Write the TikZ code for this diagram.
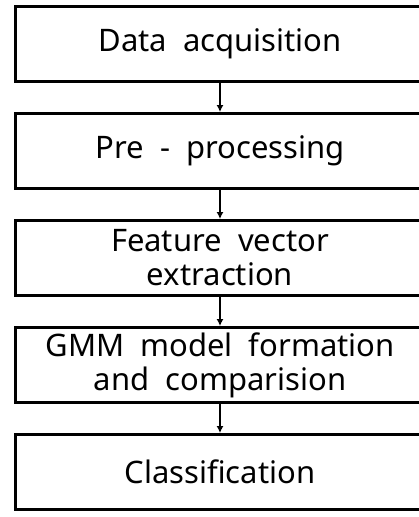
\documentclass[tikz,border=0pt]{standalone}
\usepackage{fontspec}
\setmainfont{Noto Sans}
\usetikzlibrary{positioning,arrows.meta}

\tikzset{
  stage/.style={draw,line width=3pt,minimum width=409pt,minimum height=75pt,
    align=center,font=\fontsize{31}{34}\selectfont,inner sep=0pt},
  flow/.style={-{Latex[length=7pt,width=7pt]},line width=1.2pt}
}

\begin{document}
\begin{tikzpicture}[x=1pt,y=1pt,node distance=29pt]
  \useasboundingbox (0,0) rectangle (419,-517);
  \clip (0,0) rectangle (419,-517);
  \node[stage] (acq) at (220,-44) {Data\ \ acquisition};
  \node[stage,below=of acq] (pre) {Pre\ \ -\ \ processing};
  \node[stage,below=of pre] (feat) {Feature\ \ vector\\extraction};
  \node[stage,below=of feat] (gmm) {GMM\ \ model\ \ formation\\and\ \ comparision};
  \node[stage,below=of gmm] (cls) {Classification};
  \foreach \a/\b in {acq/pre,pre/feat,feat/gmm,gmm/cls}
    \draw[flow] (\a) -- (\b);
\end{tikzpicture}
\end{document}
